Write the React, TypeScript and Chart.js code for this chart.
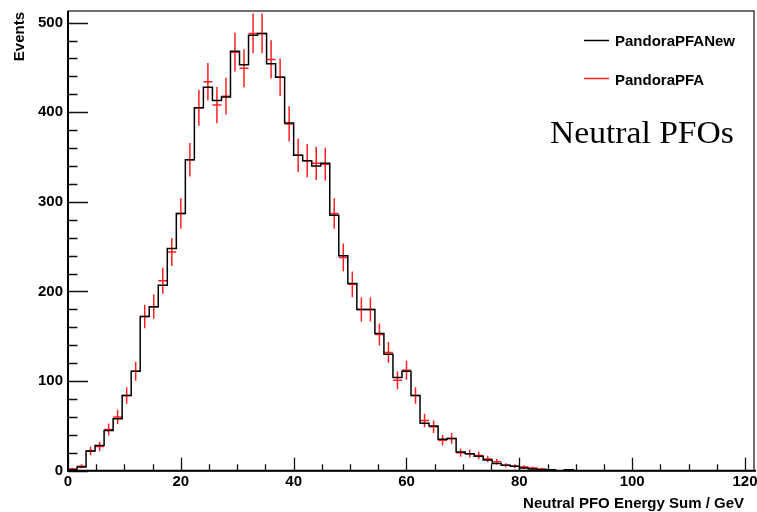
import React, { useEffect, useRef } from 'react';
import { Chart, registerables } from 'chart.js';

Chart.register(...registerables);

// ---- data ----
const BIN_WIDTH = 1.6;
const X_MIN = 0;
const X_MAX = 121.6;
const Y_MIN = 0;
const Y_MAX = 513;
const X_TICKS = [0, 20, 40, 60, 80, 100, 120];
const Y_TICKS = [0, 100, 200, 300, 400, 500];
const X_MINOR_STEP = 5;
const Y_MINOR_STEP = 20;

const SERIES_NEW = 'PandoraPFANew';
const SERIES_OLD = 'PandoraPFA';
const X_TITLE = 'Neutral PFO Energy Sum / GeV';
const Y_TITLE = 'Events';
const ANNOTATION = 'Neutral PFOs';

// counts per 1.6 GeV bin, 76 bins from 0 to 121.6
const pandoraPFANew = [
  1, 4, 22, 28, 45, 58, 84, 111, 172, 183,
  207, 248, 287, 347, 405, 428, 413, 417, 468, 453,
  486, 488, 454, 439, 388, 352, 346, 340, 343, 285,
  240, 209, 180, 180, 153, 130, 104, 111, 84, 53,
  50, 35, 36, 21, 19, 16, 12, 8, 6, 5,
  3, 2, 1, 1, 0, 1, 0, 0, 0, 0,
  0, 0, 0, 0, 0, 0, 0, 0, 0, 0,
  0, 0, 0, 0, 0, 0,
];

const pandoraPFA = [
  2, 5, 22, 27, 46, 60, 84, 111, 172, 183,
  212, 244, 287, 347, 405, 434, 408, 418, 467, 449,
  488, 488, 459, 439, 387, 352, 346, 343, 342, 287,
  238, 208, 180, 180, 152, 132, 101, 112, 84, 56,
  49, 34, 36, 20, 19, 17, 13, 10, 6, 5,
  4, 3, 2, 1, 0, 1, 0, 0, 0, 0,
  0, 0, 0, 0, 0, 0, 0, 0, 0, 0,
  0, 0, 0, 0, 0, 0,
];

// ---- styling ----
const SANS = '"Liberation Sans", Arial, Helvetica, sans-serif';
const SERIF = '"Liberation Serif", "DejaVu Serif", serif';
const RED = 'rgba(255,0,0,0.88)';

function histSteps(values: number[]) {
  const pts = values.map((v, i) => ({ x: X_MIN + i * BIN_WIDTH, y: v }));
  pts.push({ x: X_MIN + values.length * BIN_WIDTH, y: values[values.length - 1] });
  return pts;
}

function errorBars(values: number[]) {
  const pts: { x: number; y: number | null }[] = [];
  values.forEach((v, i) => {
    if (v <= 0) return;
    const lo = X_MIN + i * BIN_WIDTH;
    const hi = lo + BIN_WIDTH;
    const c = lo + BIN_WIDTH / 2;
    const e = Math.sqrt(v);
    pts.push({ x: lo, y: v }, { x: hi, y: v }, { x: hi, y: null });
    pts.push({ x: c, y: v - e }, { x: c, y: v + e }, { x: c, y: null });
  });
  return pts;
}

const rootStyle = {
  id: 'rootStyle',
  afterDatasetsDraw(chart: any) {
    const { ctx, chartArea: a, scales } = chart;
    const xs = scales.x;
    const ys = scales.y;
    ctx.save();
    // inner ticks
    ctx.strokeStyle = '#111';
    ctx.lineWidth = 1.3;
    ctx.beginPath();
    for (let v = Y_MIN; v <= Y_MAX; v += Y_MINOR_STEP) {
      const py = Math.round(ys.getPixelForValue(v)) + 0.5;
      const major = Y_TICKS.includes(v);
      ctx.moveTo(a.left, py);
      ctx.lineTo(a.left + (major ? 20 : 9.5), py);
    }
    for (let v = X_MIN; v <= X_TICKS[X_TICKS.length - 1]; v += X_MINOR_STEP) {
      const px = Math.round(xs.getPixelForValue(v)) + 0.5;
      const major = X_TICKS.includes(v);
      ctx.moveTo(px, a.bottom);
      ctx.lineTo(px, a.bottom - (major ? 13 : 6.5));
    }
    ctx.stroke();
    // frame
    ctx.strokeStyle = '#222';
    ctx.lineWidth = 1.3;
    ctx.strokeRect(a.left, a.top, a.right - a.left, a.bottom - a.top);
    ctx.strokeStyle = '#000';
    ctx.lineWidth = 2;
    ctx.beginPath();
    ctx.moveTo(a.left, a.top);
    ctx.lineTo(a.left, a.bottom);
    ctx.lineTo(a.right + 2, a.bottom);
    ctx.stroke();
    ctx.restore();
  },
  afterDraw(chart: any) {
    const { ctx, chartArea: a } = chart;
    ctx.save();
    ctx.fillStyle = '#000';
    ctx.font = `bold 15px ${SANS}`;
    ctx.textBaseline = 'alphabetic';
    // x title
    ctx.textAlign = 'right';
    ctx.fillText(X_TITLE, 744, 508);
    // y title
    ctx.save();
    ctx.translate(24, a.top + 1);
    ctx.rotate(-Math.PI / 2);
    ctx.textAlign = 'right';
    ctx.fillText(Y_TITLE, 0, 0);
    ctx.restore();
    // legend
    ctx.lineWidth = 1.5;
    ctx.strokeStyle = '#000';
    ctx.beginPath();
    ctx.moveTo(584, 40.5);
    ctx.lineTo(609, 40.5);
    ctx.stroke();
    ctx.strokeStyle = RED;
    ctx.beginPath();
    ctx.moveTo(584, 78.5);
    ctx.lineTo(609, 78.5);
    ctx.stroke();
    ctx.textAlign = 'left';
    ctx.fillText(SERIES_NEW, 615, 46);
    ctx.fillText(SERIES_OLD, 615, 85);
    // annotation
    ctx.save();
    ctx.translate(550, 143);
    ctx.scale(1.05, 1);
    ctx.font = `32px ${SERIF}`;
    ctx.fillText(ANNOTATION, 0, 0);
    ctx.restore();
    ctx.restore();
  },
};

export default function App() {
  const ref = useRef<HTMLCanvasElement | null>(null);

  useEffect(() => {
    if (!ref.current) return;
    const tickFont = { family: SANS, size: 15, weight: 'bold' as const };
    const chart = new Chart(ref.current, {
      type: 'line',
      data: {
        datasets: [
          {
            label: SERIES_NEW,
            data: histSteps(pandoraPFANew),
            stepped: 'before',
            borderColor: '#000',
            borderWidth: 1.5,
            pointRadius: 0,
            fill: false,
          },
          {
            label: SERIES_OLD,
            data: errorBars(pandoraPFA) as any,
            borderColor: RED,
            borderWidth: 1.5,
            pointRadius: 0,
            spanGaps: false,
            fill: false,
          },
        ],
      },
      options: {
        responsive: false,
        animation: false,
        events: [],
        layout: { padding: { top: 11, right: 3, left: 0, bottom: 0 } },
        plugins: {
          legend: { display: false },
          tooltip: { enabled: false },
          title: { display: false },
        },
        scales: {
          x: {
            type: 'linear',
            min: X_MIN,
            max: X_MAX,
            grid: { display: false, drawTicks: false },
            border: { display: false },
            ticks: {
              font: tickFont,
              color: '#000',
              padding: 2,
              maxRotation: 0,
              autoSkip: false,
            },
            afterBuildTicks: (s: any) => {
              s.ticks = X_TICKS.map((v) => ({ value: v }));
            },
            afterFit: (s: any) => {
              s.height = 41.3;
              s.paddingLeft = 0;
              s.paddingRight = 0;
            },
          },
          y: {
            type: 'linear',
            min: Y_MIN,
            max: Y_MAX,
            grid: { display: false, drawTicks: false },
            border: { display: false },
            ticks: {
              font: tickFont,
              color: '#000',
              padding: 5,
              autoSkip: false,
            },
            afterBuildTicks: (s: any) => {
              s.ticks = Y_TICKS.map((v) => ({ value: v }));
            },
            afterFit: (s: any) => {
              s.width = 68;
              s.paddingTop = 0;
              s.paddingBottom = 0;
            },
          },
        },
      },
      plugins: [rootStyle],
    });
    return () => chart.destroy();
  }, []);

  return (
    <div style={{ position: 'absolute', left: 0, top: 0, width: 757, height: 512, background: '#fff' }}>
      <canvas ref={ref} width={757} height={512} style={{ display: 'block' }} />
    </div>
  );
}
